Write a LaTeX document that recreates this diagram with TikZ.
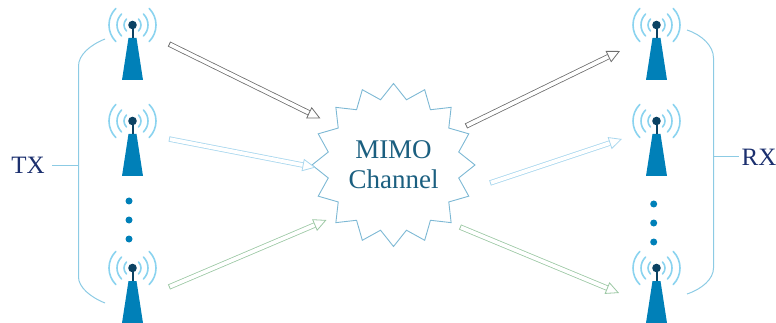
\documentclass[tikz,border=0pt]{standalone}
\usepackage{fontspec}
\setmainfont{Liberation Serif}
\usetikzlibrary{arrows.meta}
\usetikzlibrary{shapes.geometric}
\definecolor{towerblue}{HTML}{0080B8}
\definecolor{towerdark}{HTML}{0B4263}
\definecolor{wavecolor}{HTML}{8AD3EF}
\definecolor{bracecolor}{HTML}{8CCBE4}
\definecolor{starcolor}{HTML}{7DB8D4}
\definecolor{labelnavy}{HTML}{1B2F6E}
\definecolor{labelteal}{HTML}{1B5F80}
\definecolor{linkgrey}{HTML}{6E6E6E}
\definecolor{linkblue}{HTML}{A9D7EE}
\definecolor{linkgreen}{HTML}{9CC8A4}
\tikzset{
  wave/.style={wavecolor,line width=1.6pt,line cap=round},
  brace/.style={bracecolor,line width=1pt},
  link/.style={double=white,double distance=3.8pt,line width=.8pt,
    {Bar[width=5.4pt,line width=.8pt]}-{Triangle[open,fill=white,length=13pt,width=12.5pt,line width=.8pt]}},
  dot/.style={circle,fill=towerblue,inner sep=0pt,minimum size=7pt},
  side/.style={labelnavy,font=\fontsize{25}{25}\selectfont},
  pics/tower/.style={code={
    \fill[towerblue] (-4,13) -- (4,13) -- (10.5,55) -- (-10.5,55) -- cycle;
    \draw[towerdark,line width=2pt] (0,0) -- (0,13);
    \fill[towerdark] (0,0) circle (4.3);
    \foreach \r in {8.5,15.5,23.5} {
      \draw[wave] (-45:\r) arc[start angle=-45,end angle=45,radius=\r];
      \draw[wave] (135:\r) arc[start angle=135,end angle=225,radius=\r];
    }
  }}
}
\begin{document}
\begin{tikzpicture}[x=1pt,y=-1pt]
  \useasboundingbox (0,0) rectangle (776,323);
  % towers
  \pic (tx1) at (132.5,25)  {tower};
  \pic (tx2) at (132.5,121) {tower};
  \pic (tx3) at (132.5,268) {tower};
  \pic (rx1) at (656.5,25)  {tower};
  \pic (rx2) at (656.5,121) {tower};
  \pic (rx3) at (656.5,268) {tower};
  \foreach \y [count=\i] in {201,220,239} {
    \node (txdot\i) [dot] at (129,\y) {};
    \node (rxdot\i) [dot] at (653.7,\y+3) {};
  }
  % channel
  \node (channel) [star,star points=16,star point ratio=1.226,minimum size=163pt,inner sep=0pt,
    draw=starcolor,line width=.9pt,align=center,text=labelteal,
    font=\fontsize{27}{30}\selectfont] at (393.5,165) {MIMO\\Channel};
  % labels
  \node (tx) [side] at (28,165) {TX};
  \node (rx) [side] at (759,157) {RX};
  \coordinate (txjoin) at (78.5,165.5);
  \coordinate (txend) at (52,165.5);
  \coordinate (rxjoin) at (713.5,156.7);
  \coordinate (rxend) at (739,156.7);
  \draw[brace] (105,39) .. controls (90,45) and (78.5,55) .. (78.5,66) -- (78.5,277)
    .. controls (78.5,287) and (90,297) .. (105,303);
  \draw[brace] (687,30) .. controls (702,35) and (713.5,46) .. (713.5,58) -- (713.5,268)
    .. controls (713.5,279) and (702,289) .. (687,294);
  \draw[brace] (txend) -- (txjoin);
  \draw[brace] (rxjoin) -- (rxend);
  % links
  \coordinate (in1) at (169,44);
  \coordinate (in2) at (169,139);
  \coordinate (in3) at (169,287);
  \coordinate (out1) at (466,126);
  \coordinate (out2) at (490,183);
  \coordinate (out3) at (460,227);
  \coordinate (inend1) at (320.5,118.5);
  \coordinate (inend2) at (315.5,167.5);
  \coordinate (inend3) at (326.5,220);
  \coordinate (outend1) at (620,51);
  \coordinate (outend2) at (622,139);
  \coordinate (outend3) at (619,293);
  \draw[link,linkgrey] (in1) -- (inend1);
  \draw[link,linkblue] (in2) -- (inend2);
  \draw[link,linkgreen] (in3) -- (inend3);
  \draw[link,linkgrey] (out1) -- (outend1);
  \draw[link,linkblue] (out2) -- (outend2);
  \draw[link,linkgreen] (out3) -- (outend3);
\end{tikzpicture}
\end{document}
